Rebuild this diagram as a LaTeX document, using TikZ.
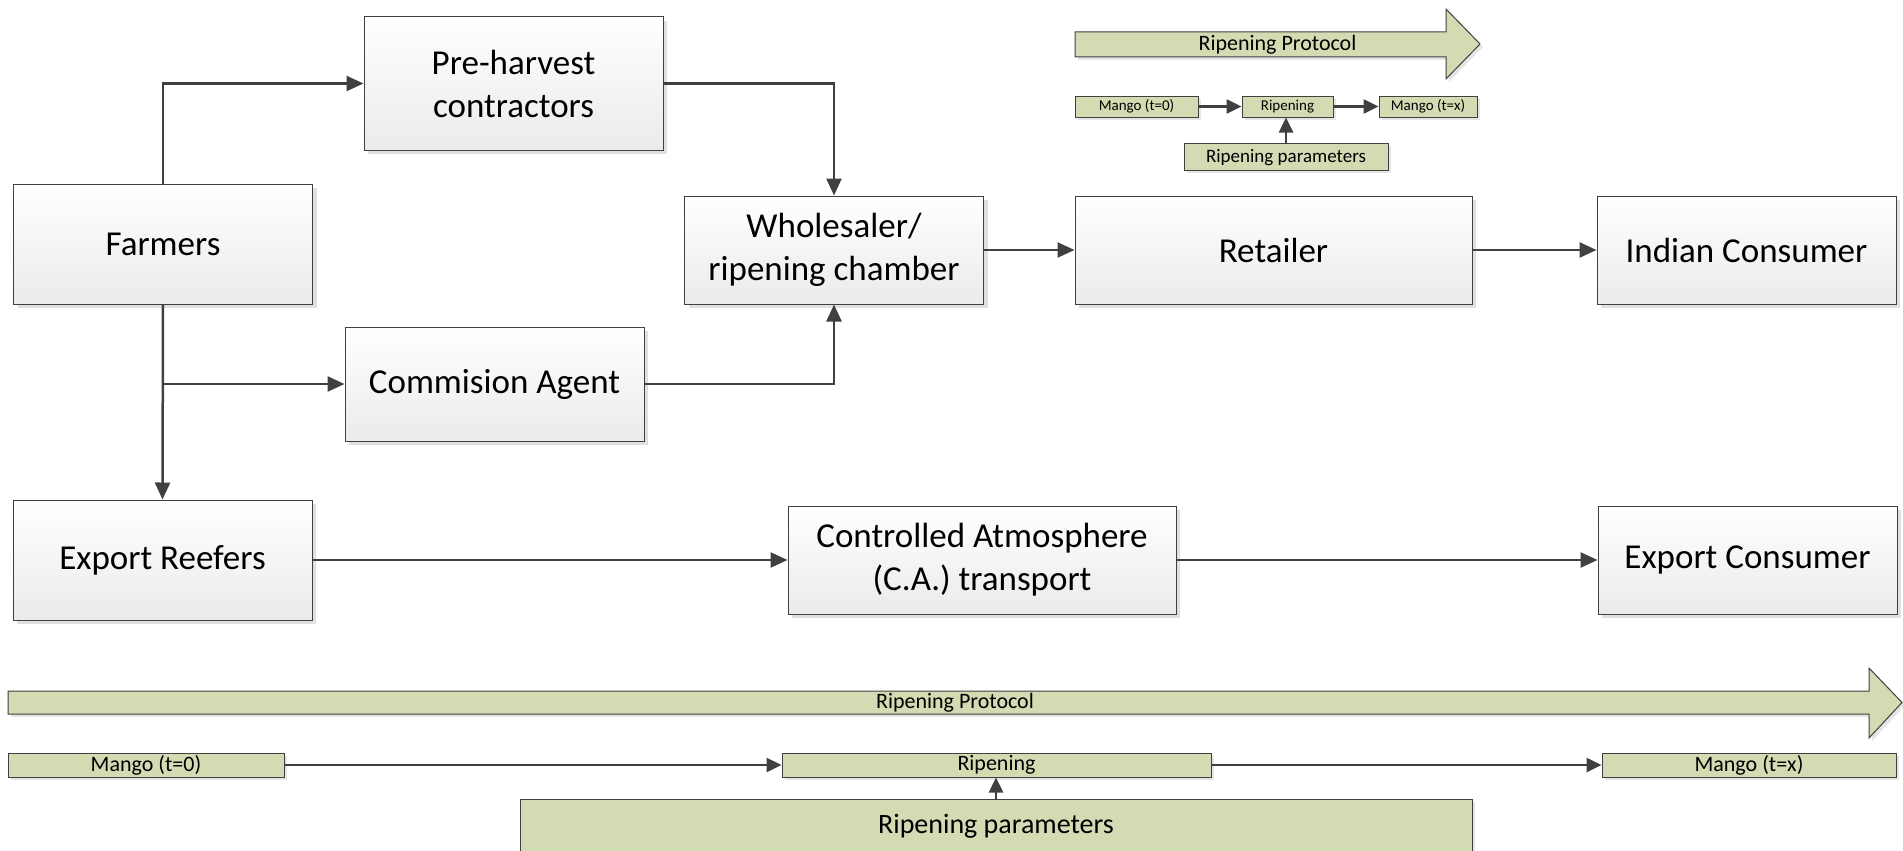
\documentclass[tikz,border=0pt]{standalone}
\usepackage{fontspec}
\setmainfont{Carlito}
\usepackage{tikz}
\usetikzlibrary{arrows.meta,shadows}
\definecolor{sage}{RGB}{211,219,179}
\definecolor{edgegray}{RGB}{64,64,64}

\begin{document}
\begin{tikzpicture}[x=1pt, y=-1pt]
\useasboundingbox (0,0) rectangle (1903,851);
\tikzstyle{every node} = [align=center, inner sep=0pt]
\tikzstyle{stage} = [draw=edgegray, line width=1pt, top color=white, bottom color=black!8,
	drop shadow={shadow xshift=4pt, shadow yshift=-4pt, fill=black!12, opacity=1},
	font=\fontsize{35}{43}\selectfont, minimum width=299pt, minimum height=108pt]
\tikzstyle{tag} = [draw=edgegray, line width=1pt, fill=sage,
	drop shadow={shadow xshift=3pt, shadow yshift=-3pt, fill=black!10, opacity=1}]
\tikzstyle{link} = [draw=edgegray, line width=2.5pt, -{Triangle[length=17pt, width=15pt]}]
\tikzstyle{flow} = [draw=edgegray, line width=2.5pt, -{Triangle[length=15pt, width=14pt]}]
% supply chain
\node[stage, minimum height=133pt] (pre) at (513.5,83.5) {Pre-harvest\\contractors};
\node[stage, minimum height=120pt] (farm) at (163,244) {Farmers};
\node[stage] (whole) at (834,250) {Wholesaler/\\ripening chamber};
\node[stage, minimum width=397pt] (retail) at (1273.5,250) {Retailer};
\node[stage] (indian) at (1746.5,250) {Indian Consumer};
\node[stage, minimum height=114pt] (agent) at (494.5,384) {Commision Agent};
\node[stage, minimum height=120pt] (reefer) at (162.5,560) {Export Reefers};
\node[stage, minimum width=388pt] (ca) at (982,560) {Controlled Atmosphere\\(C.A.) transport};
\node[stage] (excons) at (1747.5,560) {Export Consumer};
\draw[link] (farm.north) |- (pre.west);
\draw[link] (pre.east) -| (whole.north);
\draw[link] (farm.south) |- (agent.west);
\draw[link] (agent.east) -| (whole.south);
\draw[link] (farm.south) -- (reefer.north);
\draw[link] (whole.east) -- (retail.west);
\draw[link] (retail.east) -- (indian.west);
\draw[link] (reefer.east) -- (ca.west);
\draw[link] (ca.east) -- (excons.west);
% small protocol
\draw[tag] (1075,32) -- (1446,32) -- (1446,9) -- (1480,44) -- (1446,79) -- (1446,57) -- (1075,57) -- cycle;
\node[font=\fontsize{22}{26}\selectfont] (protoS) at (1277.5,44.5) {Ripening Protocol};
\tikzstyle{every node} = [align=center, inner sep=0pt, minimum height=21pt, font=\fontsize{15}{18}\selectfont]
\node[tag, minimum width=123pt] (mzeroS) at (1136.5,106.5) {Mango (t=0)};
\node[tag, minimum width=91pt] (ripS) at (1287.5,106.5) {Ripening};
\node[tag, minimum width=98pt] (mxS) at (1428,106.5) {Mango (t=x)};
\node[tag, minimum width=204pt, minimum height=27pt, font=\fontsize{19}{22}\selectfont,
	text depth=0pt, text height=11pt] (parS) at (1286,156.5) {Ripening parameters};
\draw[flow] (mzeroS) -- (ripS);
\draw[flow] (ripS) -- (mxS);
\draw[flow] (parS.north) -- (parS.north |- ripS.south);
% large protocol
\draw[tag] (8,691) -- (1869,691) -- (1869,668) -- (1902,702.5) -- (1869,738) -- (1869,714) -- (8,714) -- cycle;
\tikzstyle{every node} = [align=center, inner sep=0pt, minimum height=24pt, font=\fontsize{22}{26}\selectfont]
\node (protoB) at (955,702.5) {Ripening Protocol};
\node[tag, minimum width=276pt] (mzero) at (146,765) {Mango (t=0)};
\node[tag, minimum width=429pt] (ripen) at (996.5,765) {Ripening};
\node[tag, minimum width=294pt] (mx) at (1749,765) {Mango (t=x)};
\node[tag, minimum width=952pt, minimum height=54pt, font=\fontsize{28}{32}\selectfont] (params) at (996,826) {Ripening parameters};
\draw[flow] (mzero) -- (ripen);
\draw[flow] (ripen) -- (mx);
\draw[flow] (params.north) -- (params.north |- ripen.south);
\end{tikzpicture}
\end{document}
